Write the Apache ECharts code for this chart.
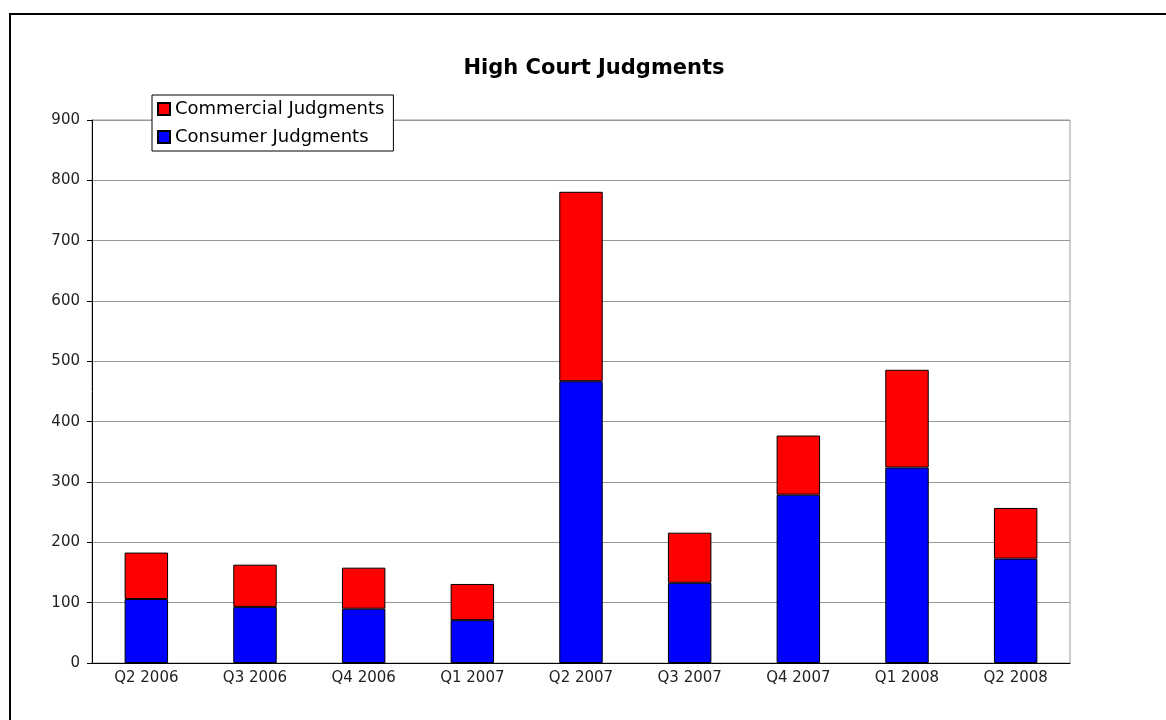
<!DOCTYPE html>
<html>
<head>
<meta charset="utf-8">
<script src="https://cdn.jsdelivr.net/npm/echarts@6/dist/echarts.min.js"></script>
<style>
  html, body { margin: 0; padding: 0; background: #fff; }
  #chart { width: 1166px; height: 720px; }
</style>
</head>
<body>
<div id="chart"></div>
<script>
// quarters along the x axis
var quarters = ['Q2 2006', 'Q3 2006', 'Q4 2006', 'Q1 2007', 'Q2 2007', 'Q3 2007', 'Q4 2007', 'Q1 2008', 'Q2 2008']
// stacked values, consumer at the bottom
var consumer = [106, 93, 90, 71, 467, 133, 279, 324, 173]
var commercial = [77, 70, 68, 60, 314, 83, 98, 162, 84]
var yTicks = [0, 100, 200, 300, 400, 500, 600, 700, 800, 900]

var chart = echarts.init(document.getElementById('chart'))
var font = 'DejaVu Sans, Verdana, sans-serif'

chart.setOption({
  backgroundColor: '#fff',
  animation: false,
  textStyle: { fontFamily: font },
  title: {
    text: 'High Court Judgments',
    left: 589,
    textAlign: 'center',
    top: 53,
    textStyle: { fontFamily: font, fontSize: 21, fontWeight: 'bold', color: '#000' }
  },
  legend: {
    orient: 'vertical',
    left: 152,
    top: 95,
    data: ['Commercial Judgments', 'Consumer Judgments'],
    backgroundColor: '#fff',
    borderColor: '#000',
    borderWidth: 1,
    borderRadius: 0,
    padding: [5, 9, 5, 5],
    itemWidth: 12,
    itemHeight: 12,
    itemGap: 10,
    icon: 'rect',
    textStyle: { fontFamily: font, fontSize: 18, color: '#000' }
  },
  grid: {
    left: 92,
    top: 120,
    width: 978,
    height: 543,
    show: true,
    borderColor: '#999',
    borderWidth: 1,
    containLabel: false
  },
  xAxis: {
    type: 'category',
    data: quarters,
    axisLine: { lineStyle: { color: '#000', width: 1 } },
    axisTick: { length: 6, lineStyle: { color: '#000' } },
    axisLabel: { fontFamily: font, fontSize: 15, color: '#222', margin: 8 }
  },
  yAxis: {
    type: 'value',
    min: yTicks[0],
    max: yTicks[yTicks.length - 1],
    interval: 100,
    axisLine: { show: true, lineStyle: { color: '#000', width: 1 } },
    axisTick: { show: true, length: 5, lineStyle: { color: '#000' } },
    axisLabel: { fontFamily: font, fontSize: 15, color: '#222', margin: 12 },
    splitLine: { lineStyle: { color: '#999', width: 1 } }
  },
  series: [
    {
      name: 'Consumer Judgments',
      type: 'bar',
      stack: 'total',
      data: consumer,
      barWidth: '40%',
      itemStyle: { color: '#0000ff', borderColor: '#000', borderWidth: 1 }
    },
    {
      name: 'Commercial Judgments',
      type: 'bar',
      stack: 'total',
      data: commercial,
      barWidth: '40%',
      itemStyle: { color: '#ff0000', borderColor: '#000', borderWidth: 1 }
    }
  ],
  graphic: [{
    type: 'rect',
    shape: { x: 10, y: 14, width: 1200, height: 760 },
    style: { fill: 'none', stroke: '#000', lineWidth: 2 },
    silent: true
  }]
})
</script>
</body>
</html>
